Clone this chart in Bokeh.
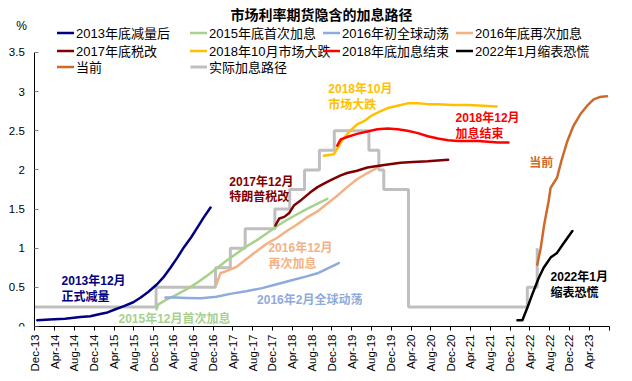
import math
from bokeh.plotting import figure
from bokeh.models import Range1d, FixedTicker, Legend, LegendItem, Label
from bokeh.embed import file_html
from bokeh.resources import INLINE

# ---------------- data ----------------
title_text = "市场利率期货隐含的加息路径"
unit_text = "%"

# x = months since Dec-2013
x_tick_labels = ["Dec-13", "Apr-14", "Aug-14", "Dec-14", "Apr-15", "Aug-15", "Dec-15",
                 "Apr-16", "Aug-16", "Dec-16", "Apr-17", "Aug-17", "Dec-17", "Apr-18",
                 "Aug-18", "Dec-18", "Apr-19", "Aug-19", "Dec-19", "Apr-20", "Aug-20",
                 "Dec-20", "Apr-21", "Aug-21", "Dec-21", "Apr-22", "Aug-22", "Dec-22",
                 "Apr-23"]
y_ticks = [0, 0.5, 1, 1.5, 2, 2.5, 3, 3.5]
y_tick_labels = ["0", "0.5", "1", "1.5", "2", "2.5", "3", "3.5"]

series_names = ["2013年底减量后", "2015年底首次加息", "2016年初全球动荡", "2016年底再次加息",
                "2017年底税改", "2018年10月市场大跌", "2018年底加息结束", "2022年1月缩表恐慌",
                "当前", "实际加息路径"]

taper_x = [0.5, 3, 6.1, 9.2, 11.2, 13.2, 14.7, 16.3, 18.0, 19.9, 21.4, 22.9, 24.7, 26.0,
           27.4, 28.8, 30.1, 31.6, 32.8, 34.1, 35.5]
taper_y = [0.08, 0.09, 0.10, 0.12, 0.13, 0.16, 0.18, 0.22, 0.26, 0.31, 0.37, 0.44, 0.54, 0.63,
           0.75, 0.88, 1.01, 1.14, 1.26, 1.39, 1.52]

hike15_x = [24.6, 24.9, 26.5, 28.5, 30.5, 32.6, 34.6, 36.7, 38.7, 40.7, 42.7, 44.8, 46.9, 48.9,
            50.9, 52.9, 54.9, 57.1, 59.1]
hike15_y = [0.22, 0.28, 0.34, 0.40, 0.47, 0.55, 0.64, 0.74, 0.84, 0.93, 1.02, 1.10, 1.19, 1.28,
            1.36, 1.43, 1.50, 1.57, 1.63]

turmoil16_x = [26.4, 28.5, 30.5, 33.6, 36.7, 39.7, 42.7, 45.9, 48.9, 51.9, 54.9, 57.1, 59.1, 61.4]
turmoil16_y = [0.37, 0.37, 0.365, 0.36, 0.38, 0.42, 0.45, 0.49, 0.54, 0.59, 0.64, 0.68, 0.74, 0.81]

hike16_x = [36.7, 37.5, 39.2, 40.7, 42.7, 44.8, 46.9, 48.9, 50.9, 52.9, 54.9, 57.1, 59.1, 61.1,
            63.1, 65.1, 67.2, 69.6]
hike16_y = [0.54, 0.68, 0.72, 0.76, 0.86, 0.96, 1.06, 1.13, 1.22, 1.30, 1.39, 1.47, 1.57, 1.67,
            1.78, 1.88, 1.96, 2.04]

tax17_x = [48.6, 49.4, 50.4, 51.4, 52.4, 53.9, 55.6, 57.1, 58.6, 60.1, 61.8, 63.1, 65.1, 67.2,
           69.2, 71.3, 73.9, 76.4, 79.4, 81.4, 83.5]
tax17_y = [1.29, 1.38, 1.40, 1.45, 1.55, 1.62, 1.71, 1.78, 1.83, 1.88, 1.93, 1.96, 1.99, 2.03,
           2.05, 2.07, 2.09, 2.10, 2.11, 2.12, 2.13]

selloff18_x = [58.4, 60.4, 61.1, 62.1, 63.7, 65.1, 66.7, 68.2, 69.9, 71.3, 73.3, 75.3, 77.4,
               79.4, 81.4, 84.5, 87.6, 90.6, 93.3]
selloff18_y = [2.18, 2.20, 2.27, 2.38, 2.50, 2.58, 2.63, 2.70, 2.75, 2.79, 2.82, 2.85, 2.85,
               2.84, 2.84, 2.83, 2.83, 2.82, 2.81]

end18_x = [61.1, 61.8, 63.1, 65.1, 67.2, 69.2, 71.3, 73.3, 75.3, 77.4, 79.4, 81.4, 83.5, 85.5,
           87.6, 89.6, 91.6, 93.6, 95.7]
end18_y = [2.31, 2.39, 2.42, 2.46, 2.49, 2.52, 2.53, 2.52, 2.50, 2.47, 2.43, 2.40, 2.38, 2.37,
           2.37, 2.37, 2.36, 2.35, 2.35]

qt22_x = [97.5, 98.5, 99.5, 100.5, 101.8, 102.8, 104.2, 105.5, 106.8, 108.6]
qt22_y = [0.08, 0.08, 0.24, 0.41, 0.62, 0.75, 0.88, 0.94, 1.06, 1.22]

current_x = [101.5, 102.2, 102.9, 103.8, 104.2, 105.5, 106.4, 107.6, 108.8, 110.2, 111.6,
             112.9, 114.1, 115.6]
current_y = [0.79, 1.00, 1.30, 1.60, 1.77, 1.90, 2.12, 2.37, 2.56, 2.71, 2.82, 2.90, 2.93, 2.94]

actual_x = [0, 24.5, 36.5, 39.5, 42.5, 48.5, 51.5, 54.5, 57.5, 60.5, 67.5, 69.5, 70.5, 75.5,
            99.5, 101.5]
actual_y = [0.25, 0.5, 0.75, 1.0, 1.25, 1.5, 1.75, 2.0, 2.25, 2.5, 2.25, 2.0, 1.75, 0.25,
            0.5, 1.0]

note_texts = [["2013年12月", "正式减量"], ["2015年12月首次加息"], ["2016年2月全球动荡"],
              ["2016年12月", "再次加息"], ["2017年12月", "特朗普税改"], ["2018年10月", "市场大跌"],
              ["2018年12月", "加息结束"], ["2022年1月", "缩表恐慌"], ["当前"]]

# ---------------- layout / styles ----------------
FONT = "Liberation Sans, Noto Sans CJK SC"
colors = ["#000080", "#A9D18E", "#8FAADC", "#F4B183", "#7F0000", "#FFC000", "#FF0000",
          "#000000", "#CD6A2B", "#BFBFBF"]

FW, FH = 612, 326          # frame size (px)
X0, PX_M = 34.3, 4.95      # px of month 0, px per month
PX_V = 78.3                # px per percentage point
X_END = 116                # axis end (Aug-23)

p = figure(frame_width=FW, frame_height=FH,
           min_border_left=0, min_border_right=8, min_border_top=0, min_border_bottom=50,
           x_range=Range1d(-X0 / PX_M, (FW - X0) / PX_M), y_range=Range1d(0, FH / PX_V),
           output_backend="svg", toolbar_location=None)
p.outline_line_color = None
p.xgrid.visible = False
p.ygrid.visible = False
p.background_fill_color = "white"
p.border_fill_color = "white"

# axes
xt = [4 * i for i in range(len(x_tick_labels) + 1)]
p.xaxis.ticker = FixedTicker(ticks=xt)
ov = {4 * i: lab for i, lab in enumerate(x_tick_labels)}
ov[xt[-1]] = ""
p.xaxis.major_label_overrides = ov
p.xaxis.bounds = (0, X_END)
p.xaxis.major_label_orientation = math.pi / 2
p.xaxis.major_tick_out = 4
p.xaxis.major_tick_in = 0
p.xaxis.minor_tick_line_color = None
p.xaxis.major_label_standoff = 4
p.xaxis.axis_line_color = "black"
p.xaxis.major_tick_line_color = "black"

p.yaxis.fixed_location = 0
p.yaxis.bounds = (0, 3.5)
p.yaxis.ticker = FixedTicker(ticks=y_ticks)
p.yaxis.major_label_overrides = {t: lab for t, lab in zip(y_ticks, y_tick_labels)}
p.yaxis.major_tick_out = 0
p.yaxis.major_tick_in = 4
p.yaxis.minor_tick_line_color = None
p.yaxis.major_label_standoff = 10
p.yaxis.axis_line_color = "black"
p.yaxis.major_tick_line_color = "#808080"

for ax in (p.xaxis, p.yaxis):
    ax.major_label_text_font = "Liberation Sans"
    ax.major_label_text_font_size = "11.5px"
    ax.major_label_text_color = "black"

# lines
r_actual = p.step(actual_x, actual_y, mode="after", line_color=colors[9], line_width=3)
data = [(taper_x, taper_y), (hike15_x, hike15_y), (turmoil16_x, turmoil16_y),
        (hike16_x, hike16_y), (tax17_x, tax17_y), (selloff18_x, selloff18_y),
        (end18_x, end18_y), (qt22_x, qt22_y), (current_x, current_y)]
rs = []
for (xs, ys), c in zip(data, colors[:9]):
    rs.append(p.line(xs, ys, line_color=c, line_width=2.5, line_join="round", line_cap="round"))
rs.append(r_actual)

# legend: 4 columns x 3 rows, one single-item legend per cell
col_x = [57, 190, 323, 456]
row_y = [32, 50, 67]       # item centre, px from top
for i, name in enumerate(series_names):
    r, c = divmod(i, 4)
    vy = int(round(FH - (row_y[r] + 9.5)))
    lg = Legend(items=[LegendItem(label=name, renderers=[rs[i]])],
                location=(col_x[c], vy), orientation="vertical",
                glyph_width=17, glyph_height=15, label_height=15, label_standoff=2,
                spacing=0, padding=0, margin=0, border_line_color=None,
                background_fill_alpha=0, label_text_font_size="13px",
                label_text_font=FONT, label_text_color="black")
    p.add_layout(lg)

# title and unit
p.add_layout(Label(x=321, y=FH - 14, x_units="screen", y_units="screen", text=title_text,
                   text_align="center", text_baseline="middle", text_font_size="14px",
                   text_font_style="bold", text_font=FONT, text_color="black"))
p.add_layout(Label(x=21, y=FH - 25, x_units="screen", y_units="screen", text=unit_text,
                   text_align="center", text_baseline="middle", text_font_size="12px",
                   text_font=FONT, text_color="black"))

# annotations (data units)
note_pos = [(5.4, 0.58), (16.9, 0.096), (44.9, 0.34), (47.2, 1.00), (39.3, 1.85),
            (59.3, 3.03), (85.0, 2.66), (104.2, 0.63), (99.9, 2.09)]
for lines, (nx, ny), c in zip(note_texts, note_pos, colors[:9]):
    for i, t in enumerate(lines):
        p.add_layout(Label(x=nx, y=ny - i * 0.2, text=t, text_color=c, text_font_size="12px",
                           text_font_style="bold", text_font=FONT,
                           text_align="left", text_baseline="middle"))

open("out.html", "w").write(file_html(p, INLINE))
